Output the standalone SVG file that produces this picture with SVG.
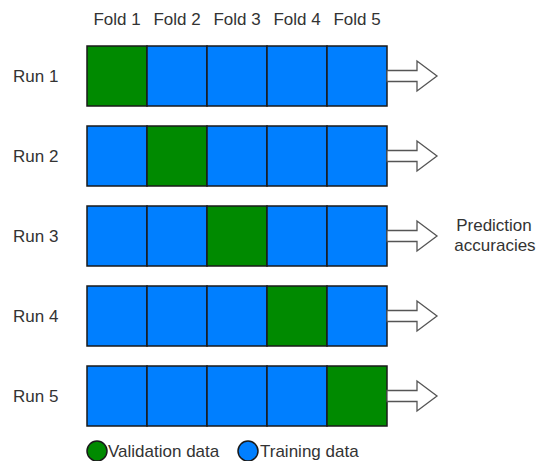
<svg xmlns="http://www.w3.org/2000/svg" width="537" height="461" viewBox="0 0 537 461">
<style>
text{font-family:"Liberation Sans",Arial,sans-serif;font-size:17px;fill:#333}
.v{fill:#008a00;stroke:#1a1a1a;stroke-width:1.5}
.t{fill:#007fff;stroke:#1a1a1a;stroke-width:1.5}
.arr{fill:#fff;stroke:#555;stroke-width:1.3}
</style>
<defs>
<path id="a" class="arr" d="M0,-5.5 H30 V-15 L50,0 L30,15 V5.5 H0 Z"/>
</defs>
<g id="headers" text-anchor="middle">
<text x="117" y="25">Fold 1</text>
<text x="177" y="25">Fold 2</text>
<text x="237" y="25">Fold 3</text>
<text x="297" y="25">Fold 4</text>
<text x="357" y="25">Fold 5</text>
</g>
<g id="run1">
<text x="13" y="82">Run 1</text>
<rect class="v" x="87" y="46" width="60" height="60"/>
<rect class="t" x="147" y="46" width="60" height="60"/>
<rect class="t" x="207" y="46" width="60" height="60"/>
<rect class="t" x="267" y="46" width="60" height="60"/>
<rect class="t" x="327" y="46" width="60" height="60"/>
</g>
<g id="run2">
<text x="13" y="162">Run 2</text>
<rect class="t" x="87" y="126" width="60" height="60"/>
<rect class="v" x="147" y="126" width="60" height="60"/>
<rect class="t" x="207" y="126" width="60" height="60"/>
<rect class="t" x="267" y="126" width="60" height="60"/>
<rect class="t" x="327" y="126" width="60" height="60"/>
</g>
<g id="run3">
<text x="13" y="242">Run 3</text>
<rect class="t" x="87" y="206" width="60" height="60"/>
<rect class="t" x="147" y="206" width="60" height="60"/>
<rect class="v" x="207" y="206" width="60" height="60"/>
<rect class="t" x="267" y="206" width="60" height="60"/>
<rect class="t" x="327" y="206" width="60" height="60"/>
</g>
<g id="run4">
<text x="13" y="322">Run 4</text>
<rect class="t" x="87" y="286" width="60" height="60"/>
<rect class="t" x="147" y="286" width="60" height="60"/>
<rect class="t" x="207" y="286" width="60" height="60"/>
<rect class="v" x="267" y="286" width="60" height="60"/>
<rect class="t" x="327" y="286" width="60" height="60"/>
</g>
<g id="run5">
<text x="13" y="402">Run 5</text>
<rect class="t" x="87" y="366" width="60" height="60"/>
<rect class="t" x="147" y="366" width="60" height="60"/>
<rect class="t" x="207" y="366" width="60" height="60"/>
<rect class="t" x="267" y="366" width="60" height="60"/>
<rect class="v" x="327" y="366" width="60" height="60"/>
</g>
<g id="connectors">
<use href="#a" x="387" y="76"/>
<use href="#a" x="387" y="156"/>
<use href="#a" x="387" y="236"/>
<use href="#a" x="387" y="316"/>
<use href="#a" x="387" y="396"/>
</g>
<g id="result" text-anchor="middle">
<text x="494" y="231">Prediction</text>
<text x="495" y="251">accuracies</text>
</g>
<g id="legend">
<circle class="v" cx="97" cy="451" r="10"/>
<text x="108" y="457">Validation data</text>
<circle class="t" cx="248" cy="451" r="10"/>
<text x="260" y="457">Training data</text>
</g>
</svg>
